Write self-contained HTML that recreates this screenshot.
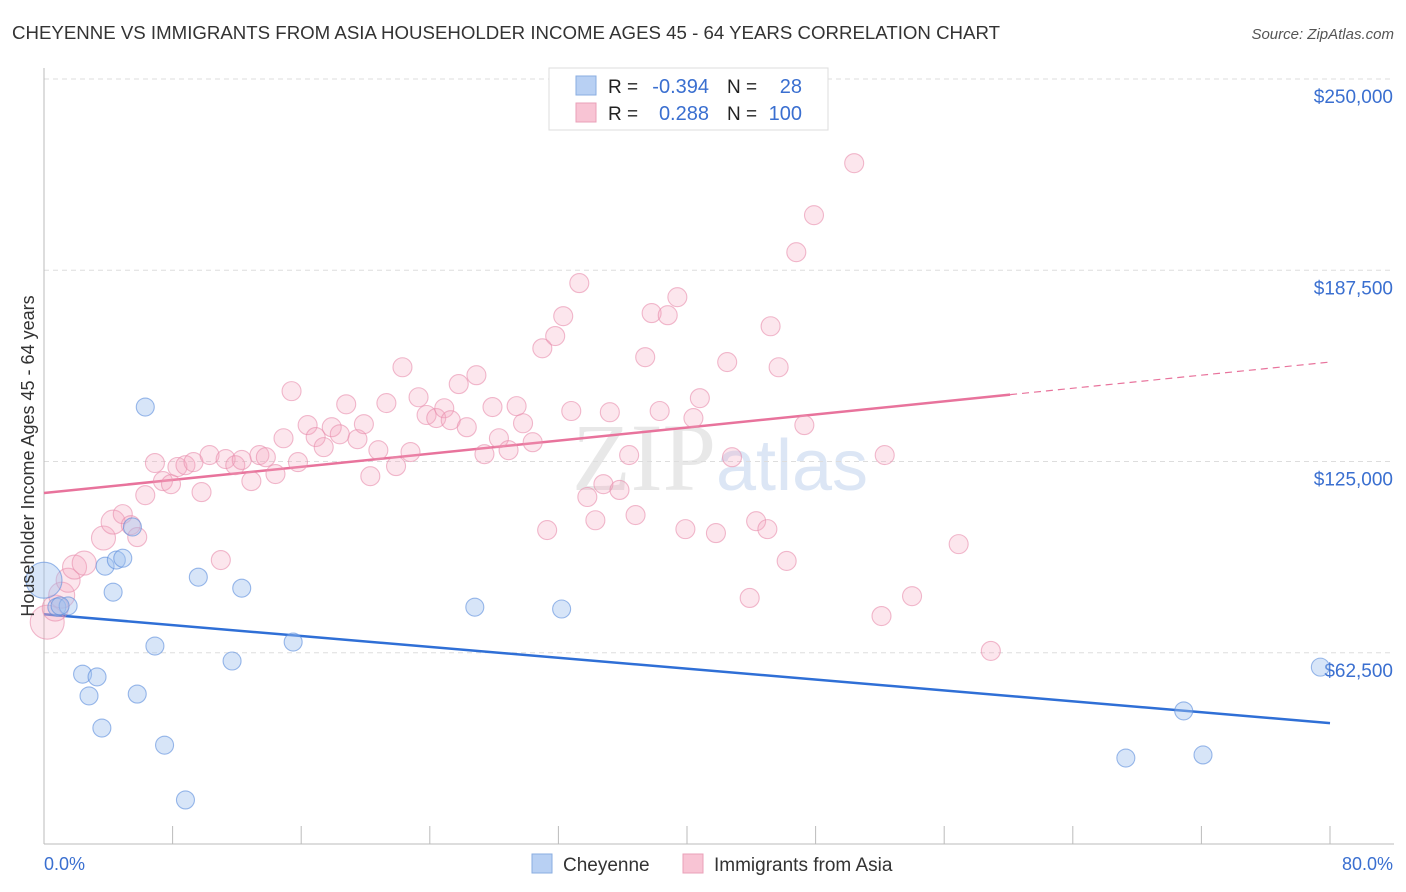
<!DOCTYPE html>
<html><head><meta charset="utf-8"><style>
body{margin:0;background:#fff;font-family:"Liberation Sans",sans-serif;}
svg{display:block}
</style></head><body>
<svg id="chart" width="1406" height="892">
<text x="12" y="39" font-size="18" fill="#333" textLength="988" lengthAdjust="spacingAndGlyphs">CHEYENNE VS IMMIGRANTS FROM ASIA HOUSEHOLDER INCOME AGES 45 - 64 YEARS CORRELATION CHART</text>
<text x="1394" y="39" font-size="15" fill="#555" font-style="italic" text-anchor="end">Source: ZipAtlas.com</text>
<text x="720" y="490" font-size="96" fill="#e8e8e8" text-anchor="middle" font-family="Liberation Serif,serif">ZIP<tspan fill="#dce6f5" font-family="Liberation Sans,sans-serif" font-size="72">atlas</tspan></text>
<g id="grid"></g>
<g id="axes"></g>
<g id="lines"></g>
<g id="points"></g>
<text transform="translate(34,456) rotate(-90)" font-size="18" fill="#333" text-anchor="middle">Householder Income Ages 45 - 64 years</text>
<text x="44" y="870" font-size="18" fill="#3a6fd0">0.0%</text>
<text x="1393" y="870" font-size="18" fill="#3a6fd0" text-anchor="end">80.0%</text>
<g>
<rect x="549" y="68" width="279" height="62" fill="#fff" stroke="#ddd"/>
<rect x="576" y="76" width="20" height="19" fill="#b8d0f3" stroke="#8aaee0"/>
<rect x="576" y="103" width="20" height="19" fill="#f8c4d4" stroke="#eaa0b8"/>
<text x="608" y="93" font-size="19" fill="#222">R =</text><text x="709" y="93" font-size="20" fill="#3a6fd0" text-anchor="end">-0.394</text>
<text x="727" y="93" font-size="19" fill="#222">N =</text><text x="802" y="93" font-size="20" fill="#3a6fd0" text-anchor="end">28</text>
<text x="608" y="120" font-size="19" fill="#222">R =</text><text x="709" y="120" font-size="20" fill="#3a6fd0" text-anchor="end">0.288</text>
<text x="727" y="120" font-size="19" fill="#222">N =</text><text x="802" y="120" font-size="20" fill="#3a6fd0" text-anchor="end">100</text>
</g>
<g>
<rect x="532" y="854" width="20" height="19" fill="#b8d0f3" stroke="#8aaee0"/>
<text x="563" y="871" font-size="19" fill="#333">Cheyenne</text>
<rect x="683" y="854" width="20" height="19" fill="#f8c4d4" stroke="#eaa0b8"/>
<text x="714" y="871" font-size="19" fill="#333">Immigrants from Asia</text>
</g>
</svg>
<script>
const yTicks=[62500,125000,187500,250000];
const yTickLabels=["$62,500","$125,000","$187,500","$250,000"];
const blueX=[0.0,0.8,1.5,1.0,3.8,4.5,4.9,4.3,5.5,6.3,9.6,12.3,6.9,2.4,3.3,2.8,5.8,3.6,11.7,15.5,7.5,8.8,26.8,32.2,79.4,70.9,67.3,72.1];
const blueY=[86.2,77.4,77.8,77.8,90.8,92.8,93.4,82.3,103.6,142.8,87.2,83.6,64.7,55.5,54.6,48.4,49.0,37.9,59.8,66.0,32.3,14.4,77.4,76.8,57.8,43.5,28.1,29.1];
const pinkX=[0.2,0.7,1.1,1.5,1.9,2.5,3.7,4.3,4.9,5.4,5.8,6.3,6.9,7.4,7.9,8.3,8.8,9.3,9.8,10.3,11.0,11.3,11.9,12.3,12.9,13.4,13.8,14.4,14.9,15.4,15.8,16.4,16.9,17.4,17.9,18.4,18.8,19.5,19.9,20.3,20.8,21.3,21.9,22.3,22.8,23.3,23.8,24.4,24.9,25.3,25.8,26.3,26.9,27.4,27.9,28.3,28.9,29.4,29.8,30.4,31.0,31.3,31.8,32.3,32.8,33.3,33.8,34.3,34.8,35.2,35.8,36.4,36.8,37.4,37.8,38.3,38.8,39.4,39.9,40.4,40.8,41.8,42.5,42.8,43.9,44.3,45.0,45.2,45.7,46.2,46.8,47.3,47.9,50.4,52.1,52.3,54.0,56.9,58.9];
const pinkY=[72.5,77.1,81.3,86.2,90.5,91.8,100.0,105.2,107.8,104.2,100.3,114.0,124.5,118.6,117.6,123.2,123.8,124.8,115.0,127.1,92.8,125.8,123.8,125.5,118.6,127.1,126.4,120.9,132.6,148.0,124.8,136.9,133.0,129.7,136.2,133.9,143.7,132.3,137.2,120.2,128.7,144.1,123.5,155.8,128.1,146.0,140.2,139.2,142.4,138.5,150.3,136.2,153.2,127.4,142.8,132.6,128.7,143.1,137.5,131.3,162.0,102.6,166.0,172.5,141.5,183.3,113.4,105.8,117.6,141.1,115.7,127.1,107.5,159.1,173.5,141.5,172.8,178.7,102.9,139.2,145.7,101.6,157.5,126.4,80.4,105.5,102.9,169.2,155.8,92.5,193.4,136.9,205.5,222.5,74.5,127.1,81.0,98.0,63.1];
const blueTrend=[75.1,39.5];
const pinkTrend=[114.7,157.5];
const pinkSolidEnd=60.1;
const NS="http://www.w3.org/2000/svg";
const X=p=>44+p/80*1286;
const Y=v=>844-v/250000*765;
function mk(t,a,parent){const e=document.createElementNS(NS,t);for(const k in a)e.setAttribute(k,a[k]);parent.appendChild(e);return e;}
const grid=document.getElementById('grid'),axes=document.getElementById('axes');
yTicks.forEach((t,i)=>{
  const l=mk('line',{x1:44,x2:1394,y1:Y(t),y2:Y(t),stroke:'#ddd','stroke-dasharray':'5,4'},grid);
  
  
  const tx=mk('text',{x:1393,y:Y(t)+24,'font-size':19,fill:'#3a6fd0','text-anchor':'end'},axes);
  tx.textContent=yTickLabels[i];
  
  
});
const ax=mk('line',{x1:44,x2:44,y1:68,y2:844,stroke:'#bbb'},axes);


const bx=mk('line',{x1:44,x2:1394,y1:844,y2:844,stroke:'#bbb'},axes);


for(let i=1;i<=10;i++){const t=mk('line',{x1:X(i*8),x2:X(i*8),y1:826,y2:844,stroke:'#bbb'},axes);
  
  }
const pts=document.getElementById('points');
pinkX.forEach((x,i)=>{
  const r=i===0?17:(i<3?13:(i<8?12:9.5));
  const c=mk('circle',{cx:X(x),cy:Y(pinkY[i]*1000),r:r,fill:'rgba(244,165,192,0.28)',stroke:'rgba(232,140,172,0.6)','stroke-width':1.1},pts);
  
  
});
blueX.forEach((x,i)=>{
  const r=i===0?18:9;
  const c=mk('circle',{cx:X(x),cy:Y(blueY[i]*1000),r:r,fill:'rgba(160,192,238,0.42)',stroke:'rgba(90,140,220,0.6)','stroke-width':1.1},pts);
  
  
});
const lines=document.getElementById('lines');
const py=p=>Y((pinkTrend[0]+(pinkTrend[1]-pinkTrend[0])*p/80)*1000);
const bl=mk('line',{x1:X(0),y1:Y(blueTrend[0]*1000),x2:X(80),y2:Y(blueTrend[1]*1000),stroke:'#2f6fd6','stroke-width':2.5},lines);


const pl=mk('line',{x1:X(0),y1:py(0),x2:X(pinkSolidEnd),y2:py(pinkSolidEnd),stroke:'#e8739c','stroke-width':2.5},lines);


const pd=mk('line',{x1:X(pinkSolidEnd),y1:py(pinkSolidEnd),x2:X(80),y2:py(80),stroke:'#e8739c','stroke-width':1.2,'stroke-dasharray':'7,5'},lines);


</script>
</body></html>
